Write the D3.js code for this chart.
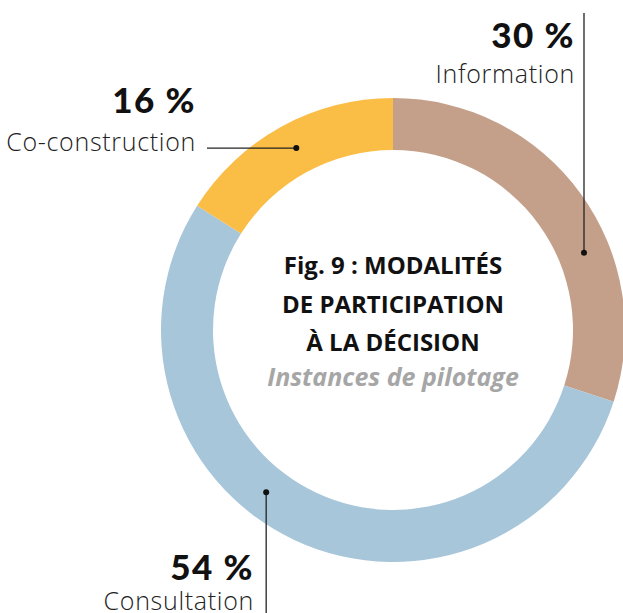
<!DOCTYPE html>
<html>
<head>
<meta charset="utf-8">
<script src="https://cdn.jsdelivr.net/npm/d3@7"></script>
<style>
  body { margin: 0; background: #fff; }
  svg { display: block; }
</style>
</head>
<body>
<div id="chart"></div>
<script>
(function() {
  var categories = ["Information", "Consultation", "Co-construction"];
  var values = [30, 54, 16];
  var colors = ["#c4a08b", "#a8c6da", "#fabd46"];
  var titleLines = ["Fig. 9 : MODALITÉS", "DE PARTICIPATION", "À LA DÉCISION"];
  var subtitle = "Instances de pilotage";

  var width = 623, height = 613,
      cx = 393, cy = 330,
      outerR = 232, innerR = 180;

  var svg = d3.select("#chart").append("svg")
      .attr("width", width)
      .attr("height", height);

  var g = svg.append("g")
      .attr("transform", "translate(" + cx + "," + cy + ")");

  var pie = d3.pie().sort(null).value(d => d.value);
  var arc = d3.arc().innerRadius(innerR).outerRadius(outerR);

  var data = categories.map((c, i) => ({ name: c, value: values[i], color: colors[i] }));
  var arcs = pie(data);

  g.selectAll("path")
      .data(arcs)
    .enter().append("path")
      .attr("d", arc)
      .attr("fill", d => d.data.color);

  // leader placement (angle in degrees on the ring, direction of the line)
  var leaders = {
    "Information":     { angle: 68,  dir: "up",    end: 13,  lx: 575, py: 48,  ny: 83 },
    "Consultation":    { angle: 218, dir: "down",  end: 613, lx: 254, py: 580, ny: 610 },
    "Co-construction": { angle: 332, dir: "left",  end: 207, lx: 196, py: 113, ny: 151 }
  };

  var midR = (innerR + outerR) / 2;

  arcs.forEach(function(a) {
    var L = leaders[a.data.name];
    var t = L.angle * Math.PI / 180;
    var px = cx + midR * Math.sin(t),
        py = cy - midR * Math.cos(t);
    var x2 = px, y2 = py;
    if (L.dir === "up" || L.dir === "down") y2 = L.end; else x2 = L.end;

    svg.append("line")
        .attr("x1", px).attr("y1", py)
        .attr("x2", x2).attr("y2", y2)
        .attr("stroke", "#222")
        .attr("stroke-width", 1.3);

    svg.append("circle")
        .attr("cx", px).attr("cy", py)
        .attr("r", 3)
        .attr("fill", "#111");

    svg.append("text")
        .attr("x", L.lx).attr("y", L.py)
        .attr("text-anchor", "end")
        .style("font", "900 35px Lato, sans-serif")
        .style("letter-spacing", "1.5px")
        .style("fill", "#111")
        .text(a.data.value + " %");

    svg.append("text")
        .attr("x", L.lx).attr("y", L.ny)
        .attr("text-anchor", "end")
        .style("font", "300 25px 'Open Sans', sans-serif")
        .style("fill", "#222")
        .style("letter-spacing", "0.7px")
        .text(a.data.name);
  });

  var title = svg.append("g")
      .attr("transform", "translate(" + cx + ",0)");

  title.selectAll(".tl")
      .data(titleLines)
    .enter().append("text")
      .attr("class", "tl")
      .attr("x", 0)
      .attr("y", (d, i) => 274 + i * 38.5)
      .attr("text-anchor", "middle")
      .style("font", "bold 24px 'Open Sans', sans-serif")
      .style("fill", "#111")
      .text(d => d);

  title.append("text")
      .attr("x", 0)
      .attr("y", 386)
      .attr("text-anchor", "middle")
      .style("font", "italic bold 25px 'Open Sans', sans-serif")
      .style("fill", "#a6a6a6")
      .text(subtitle);
})();
</script>
</body>
</html>
